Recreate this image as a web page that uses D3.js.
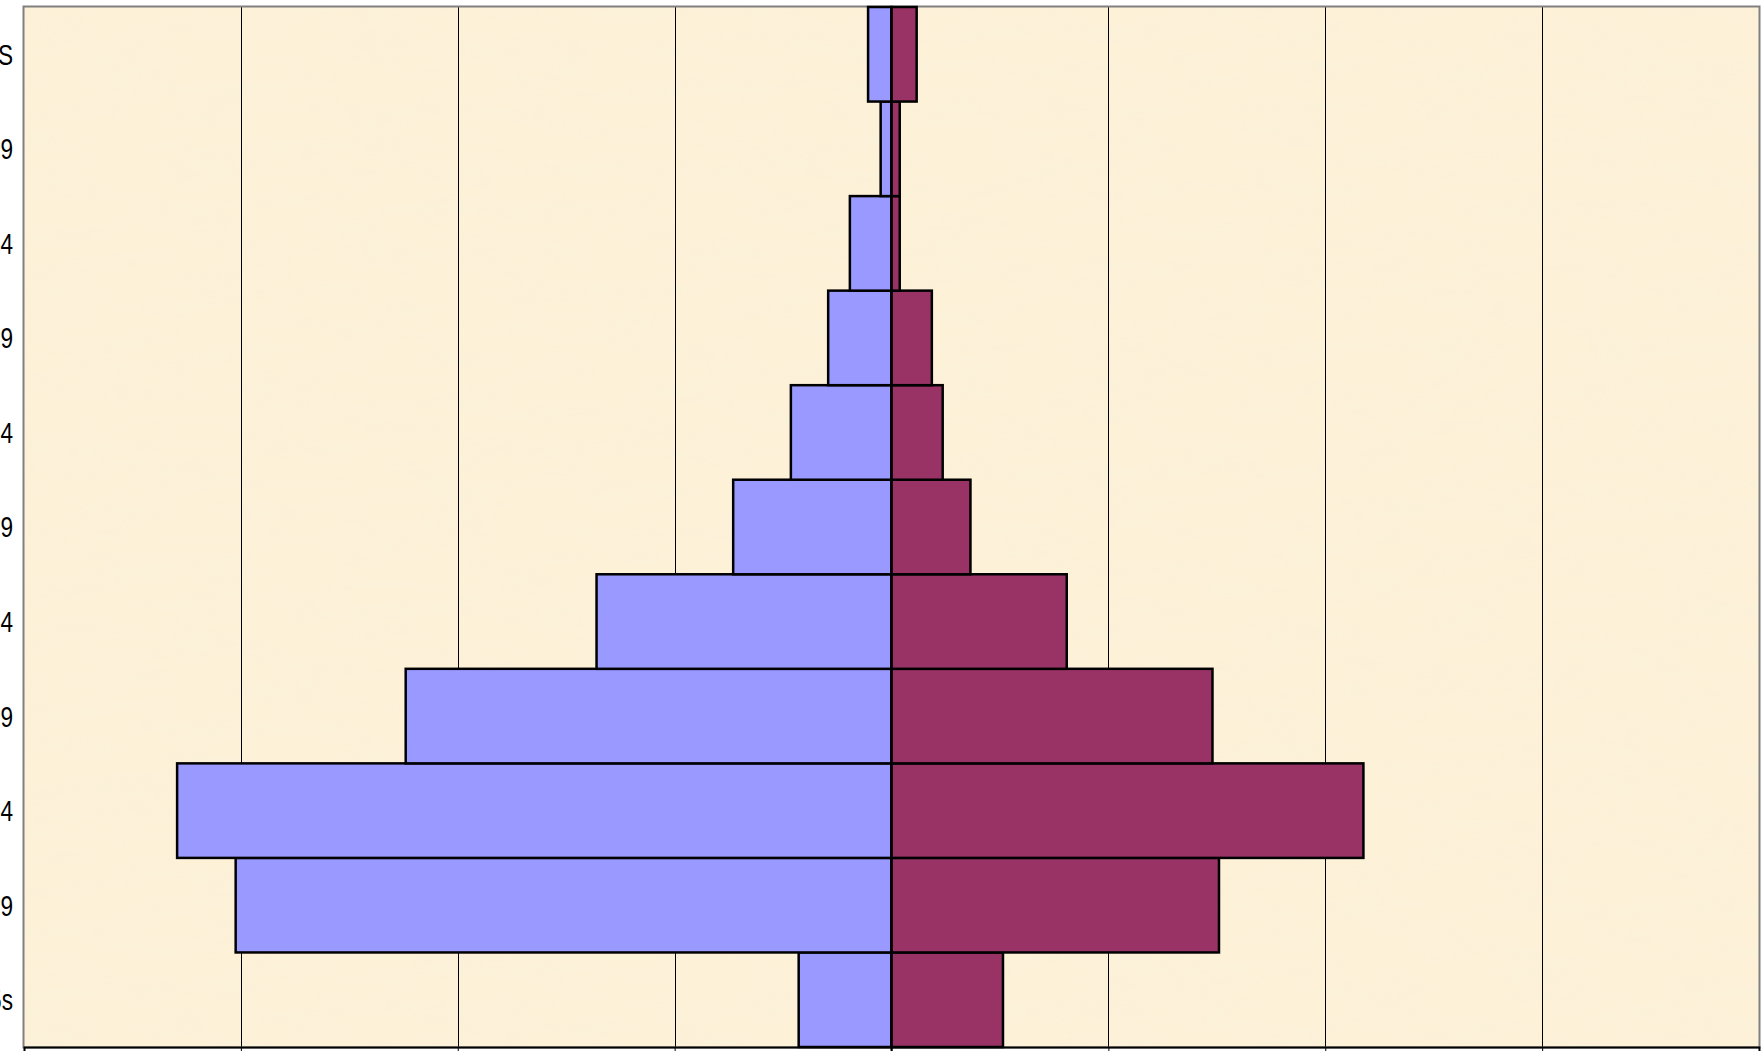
<!DOCTYPE html>
<html>
<head>
<meta charset="utf-8">
<script src="https://cdn.jsdelivr.net/npm/d3@7"></script>
<style>
  html, body { margin: 0; padding: 0; background: #ffffff; overflow: hidden; }
  svg { display: block; }
</style>
</head>
<body>
<svg id="chart" width="1763" height="1051"></svg>
<script>
// Age groups, bottom to top (as in the original category axis)
const ageGroups = ["Under 15s", "15-19", "20-24", "25-29", "30-34", "35-39",
                   "40-44", "45-49", "50-54", "55-59", "60 PLUS"];
// Share of population (%) – males drawn to the left, females to the right
const maleValues   = [2.14, 15.12, 16.47, 11.20, 6.80, 3.65, 2.32, 1.46, 0.96, 0.25, 0.54];
const femaleValues = [2.57,  7.55, 10.88,  7.40, 4.04, 1.82, 1.18, 0.93, 0.19, 0.19, 0.58];
// Value axis ticks
const xTicks = [-20, -15, -10, -5, 0, 5, 10, 15, 20];

const plot = { left: 24, top: 7, right: 1759, bottom: 1047 };
const FONT = "'Liberation Sans Narrow', 'Arial Narrow', 'Liberation Sans', Arial, sans-serif";

const svg = d3.select("#chart");
const defs = svg.append("defs");

// Parchment-like texture
const f = defs.append("filter").attr("id", "paper")
  .attr("x", 0).attr("y", 0).attr("width", "100%").attr("height", "100%");
f.append("feTurbulence").attr("type", "fractalNoise")
  .attr("baseFrequency", "0.012 0.05").attr("numOctaves", 3).attr("seed", 7).attr("result", "noise");
f.append("feColorMatrix").attr("in", "noise").attr("type", "matrix")
  .attr("values", "0 0 0 0 0.96  0 0 0 0 0.88  0 0 0 0 0.70  0 0 0 -1.8 1.1")
  .attr("result", "tint");
f.append("feComposite").attr("in", "tint").attr("in2", "SourceGraphic").attr("operator", "in");

const x = d3.scaleLinear().domain([-20, 20]).range([plot.left, plot.right]);
const y = d3.scaleBand().domain(ageGroups.slice().reverse())
  .range([plot.top, plot.bottom]).paddingInner(0).paddingOuter(0);

// Plot background
svg.append("rect")
  .attr("x", plot.left).attr("y", plot.top)
  .attr("width", plot.right - plot.left).attr("height", plot.bottom - plot.top)
  .attr("fill", "#fdf1d8");
svg.append("rect")
  .attr("x", plot.left).attr("y", plot.top)
  .attr("width", plot.right - plot.left).attr("height", plot.bottom - plot.top)
  .attr("fill", "#fdf1d8")
  .attr("filter", "url(#paper)")
  .attr("opacity", 0.7);

// Vertical gridlines
svg.append("g").selectAll("line")
  .data(xTicks.filter(d => d !== -20 && d !== 20 && d !== 0))
  .join("line")
  .attr("x1", d => Math.round(x(d)) + 0.5).attr("x2", d => Math.round(x(d)) + 0.5)
  .attr("y1", plot.top).attr("y2", plot.bottom)
  .attr("stroke", "#000").attr("stroke-width", 1);

// Plot border (gray)
svg.append("rect")
  .attr("x", plot.left - 0.5).attr("y", plot.top - 0.5)
  .attr("width", plot.right - plot.left + 1).attr("height", plot.bottom - plot.top + 1)
  .attr("fill", "none").attr("stroke", "#808080").attr("stroke-width", 2);

const rows = ageGroups.map((g, i) => ({ g, m: maleValues[i], f: femaleValues[i] }));

// Male bars (left)
svg.append("g").selectAll("rect")
  .data(rows).join("rect")
  .attr("x", d => x(-d.m)).attr("y", d => y(d.g))
  .attr("width", d => x(0) - x(-d.m)).attr("height", y.bandwidth())
  .attr("fill", "#9999ff").attr("stroke", "#000").attr("stroke-width", 2.5);

// Female bars (right)
svg.append("g").selectAll("rect")
  .data(rows).join("rect")
  .attr("x", x(0)).attr("y", d => y(d.g))
  .attr("width", d => x(d.f) - x(0)).attr("height", y.bandwidth())
  .attr("fill", "#993366").attr("stroke", "#000").attr("stroke-width", 2.5);

// Category axis line at zero
svg.append("line")
  .attr("x1", x(0)).attr("x2", x(0))
  .attr("y1", plot.top).attr("y2", plot.bottom + 4)
  .attr("stroke", "#000").attr("stroke-width", 2);

// X axis (bottom); its labels lie below the visible frame in the reference
const xAxis = d3.axisBottom(x).tickValues(xTicks).tickSize(6)
  .tickFormat(d => Math.abs(d) + "%");
const gx = svg.append("g").attr("transform", `translate(0,${plot.bottom})`).call(xAxis);
gx.select(".domain").attr("stroke", "#000").attr("stroke-width", 2);
gx.selectAll(".tick line").attr("stroke", "#000");
gx.selectAll("text").attr("font-family", FONT).attr("font-size", 23).attr("fill", "#000");

// Category labels (left, partially outside the frame as in the reference)
svg.append("g").selectAll("text")
  .data(ageGroups).join("text")
  .attr("transform", d => `translate(13,${y(d) + y.bandwidth() / 2}) scale(0.78,1)`)
  .attr("dy", "0.36em")
  .attr("text-anchor", "end")
  .attr("font-family", FONT)
  .attr("font-size", 29)
  .attr("fill", "#000")
  .text(d => d);
</script>
</body>
</html>
